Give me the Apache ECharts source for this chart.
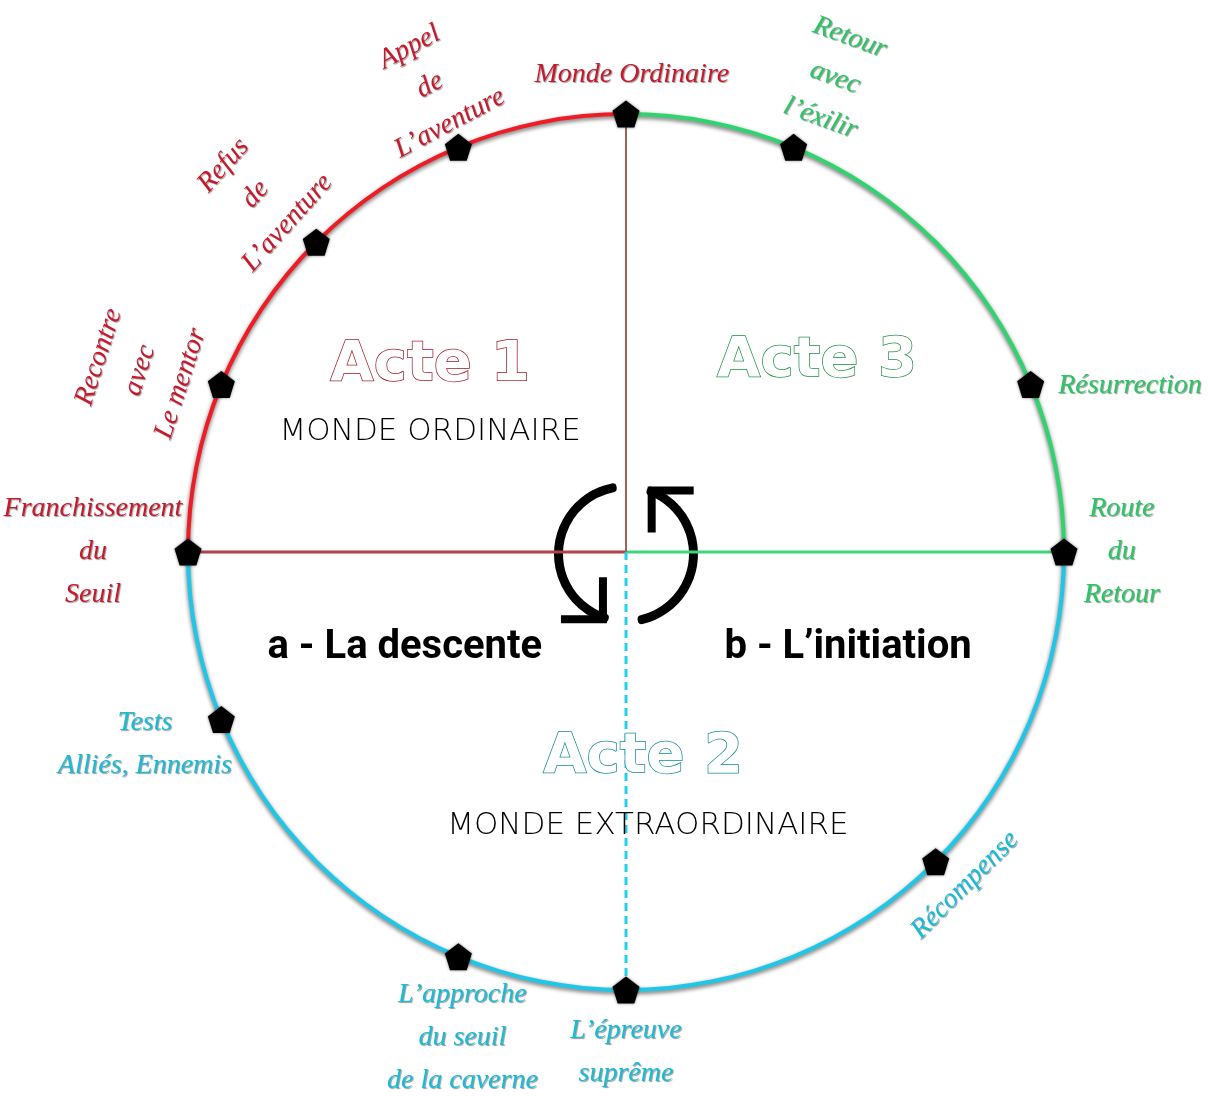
<!DOCTYPE html>
<html>
<head>
<meta charset="utf-8">
<script src="https://cdn.jsdelivr.net/npm/echarts@6/dist/echarts.min.js"></script>
<style>
  html, body { margin: 0; padding: 0; background: #fff; }
  #main { width: 1208px; height: 1096px; }
</style>
</head>
<body>
<div id="main"></div>
<script>
// etapes du voyage du heros
var stageNames = [
  'Monde Ordinaire', 'Appel\nde\nL’aventure', 'Refus\nde\nL’aventure', 'Recontre\navec\nLe mentor',
  'Franchissement\ndu\nSeuil', 'Tests\nAlliés, Ennemis', 'L’approche\ndu seuil\nde la caverne',
  'L’épreuve\nsuprême', 'Récompense', 'Route\ndu\nRetour', 'Résurrection', 'Retour\navec\nl’éxilir'
];
var stageAngles = [90, 112.5, 135, 157.5, 180, 202.5, 247.5, 270, 315, 0, 22.5, 67.5];
var stageActs = [1, 1, 1, 1, 1, 2, 2, 2, 2, 3, 3, 3];
var labelRadius = [1.089, 1.156, 1.176, 1.185, 1.217, 1.183, 1.171, 1.142, 1.085, 1.132, 1.212, 1.183];
var labelAngles = [89.3, 112.8, 136, 159.5, 180, 201.8, 251.4, 270, 315.5, 0, 18.3, 66.2];
var labelRotate = [0, 28, 48, 72, 0, 0, 0, 0, 45, 0, 0, -20];

// arcs du cercle (degres) : acte 1, acte 2, acte 3
var arcNames = ['Acte 1', 'Acte 2', 'Acte 3'];
var arcSpans = [90, 180, 90];

// fleches du centre
var cycleSpans = [157, 25, 152, 26];
var arrowHeads = [[-0.096, -0.110, 0], [0.102, 0.097, 180]];

// textes du centre
var actTitles = ['Acte 1', 'Acte 3', 'Acte 2'];
var actTitlePos = [[-0.447, 0.427], [0.436, 0.434], [0.039, -0.468]];
var actTitleAct = [1, 3, 2];
var worldNames = ['MONDE ORDINAIRE', 'MONDE EXTRAORDINAIRE'];
var worldPos = [[-0.447, 0.274], [0.050, -0.626]];
var phaseNames = ['a - La descente', 'b - L’initiation'];
var phasePos = [[-0.505, -0.219], [0.507, -0.219]];

var arcColors = { 1: '#ee1c25', 2: '#1ec6e8', 3: '#2fd46f' };
var textColors = { 1: '#c8192c', 2: '#17bcd9', 3: '#27c862' };
var darkColors = { 1: '#9c1a28', 2: '#138a9c', 3: '#1f8f45' };

var pentagon = 'path://M0,-10L9.51,-3.09L5.88,8.09L-5.88,8.09L-9.51,-3.09Z';
var corner = 'path://M38,0L46,0L46,46L0,46L0,38L38,38Z';

var myChart = echarts.init(document.getElementById('main'));

var hidden = { axisLine: { show: false }, axisTick: { show: false }, axisLabel: { show: false }, splitLine: { show: false } };

myChart.setOption({
  animation: false,
  polar: { center: [626, 552], radius: 438 * 1.3 },
  radiusAxis: Object.assign({ type: 'value', min: 0, max: 1.3 }, hidden),
  angleAxis: Object.assign({ type: 'value', min: 0, max: 360, startAngle: 0, clockwise: false }, hidden),
  grid: { left: 188, top: 114, width: 876, height: 876 },
  xAxis: Object.assign({ type: 'value', min: -1, max: 1 }, hidden),
  yAxis: Object.assign({ type: 'value', min: -1, max: 1 }, hidden),
  series: [
    {
      name: 'cercle',
      type: 'pie',
      silent: true,
      center: [626, 552],
      radius: [436, 440],
      startAngle: 90,
      clockwise: false,
      label: { show: false },
      labelLine: { show: false },
      itemStyle: { borderWidth: 0, shadowBlur: 4, shadowColor: 'rgba(0,0,0,0.6)', shadowOffsetY: 2 },
      data: arcNames.map(function (n, i) {
        return { name: n, value: arcSpans[i], itemStyle: { color: arcColors[i + 1] } };
      })
    },
    {
      name: 'cycle',
      type: 'pie',
      silent: true,
      center: [626, 554],
      radius: [63, 72],
      startAngle: 98,
      clockwise: false,
      label: { show: false },
      labelLine: { show: false },
      itemStyle: { borderWidth: 0, borderRadius: 4 },
      data: cycleSpans.map(function (v, i) {
        return { value: v, itemStyle: { color: i % 2 === 0 ? '#000' : 'rgba(0,0,0,0)' } };
      })
    },
    {
      type: 'scatter',
      coordinateSystem: 'cartesian2d',
      silent: true,
      symbol: corner,
      symbolSize: [46, 46],
      itemStyle: { color: '#000', opacity: 1 },
      data: arrowHeads.map(function (a) {
        return { value: [a[0], a[1]], symbolRotate: a[2] };
      })
    },
    {
      type: 'line', coordinateSystem: 'polar', silent: true, symbol: 'none',
      lineStyle: { color: '#b2404d', width: 3 },
      data: [[0, 180], [1, 180]]
    },
    {
      type: 'line', coordinateSystem: 'polar', silent: true, symbol: 'none',
      lineStyle: { color: '#3fd67b', width: 3 },
      data: [[0, 0], [1, 0]]
    },
    {
      type: 'line', coordinateSystem: 'polar', silent: true, symbol: 'none',
      lineStyle: { color: '#9a6555', width: 2 },
      data: [[0, 90], [1, 90]]
    },
    {
      type: 'line', coordinateSystem: 'polar', silent: true, symbol: 'none',
      lineStyle: { color: '#22d0ee', width: 3, type: [8, 5] },
      data: [[0, 270], [1, 270]]
    },
    {
      name: 'etapes',
      type: 'scatter',
      coordinateSystem: 'polar',
      silent: true,
      symbol: pentagon,
      symbolSize: 27,
      itemStyle: { color: '#000', opacity: 1, shadowBlur: 3, shadowColor: 'rgba(0,0,0,0.5)' },
      z: 5,
      data: stageAngles.map(function (a) { return [1, a]; })
    },
    {
      name: 'libelles',
      type: 'scatter',
      coordinateSystem: 'polar',
      silent: true,
      symbolSize: 0,
      z: 6,
      data: stageNames.map(function (n, i) {
        var act = stageActs[i];
        return {
          value: [labelRadius[i], labelAngles[i]],
          label: {
            show: true,
            position: 'inside',
            formatter: n,
            rotate: labelRotate[i],
            color: textColors[act],
            opacity: 1,
            fontFamily: 'Liberation Serif',
            fontStyle: 'italic',
            fontSize: 28,
            lineHeight: 43,
            align: 'center',
            verticalAlign: 'middle',
            textShadowColor: 'rgba(0,0,0,0.4)',
            textShadowBlur: 1,
            textShadowOffsetX: 1,
            textShadowOffsetY: 1
          }
        };
      })
    },
    {
      name: 'actes',
      type: 'scatter',
      coordinateSystem: 'cartesian2d',
      silent: true,
      symbolSize: 0,
      z: 6,
      data: actTitles.map(function (t, i) {
        var act = actTitleAct[i];
        return {
          value: actTitlePos[i],
          label: {
            show: true, position: 'inside', formatter: t, opacity: 1,
            fontFamily: 'DejaVu Sans', fontWeight: 'bold', fontSize: 56,
            color: '#fff', textBorderColor: darkColors[act], textBorderWidth: 1.5,
            textShadowColor: textColors[act], textShadowBlur: 0,
            textShadowOffsetX: 3, textShadowOffsetY: -3
          }
        };
      })
    },
    {
      name: 'mondes',
      type: 'scatter',
      coordinateSystem: 'cartesian2d',
      silent: true,
      symbolSize: 0,
      z: 6,
      data: worldNames.map(function (t, i) {
        return {
          value: worldPos[i],
          label: {
            show: true, position: 'inside', formatter: t, opacity: 1,
            fontFamily: 'DejaVu Sans', fontWeight: 200, fontSize: 31,
            color: '#000'
          }
        };
      })
    },
    {
      name: 'phases',
      type: 'scatter',
      coordinateSystem: 'cartesian2d',
      silent: true,
      symbolSize: 0,
      z: 6,
      data: phaseNames.map(function (t, i) {
        return {
          value: phasePos[i],
          label: {
            show: true, position: 'inside', formatter: t, opacity: 1,
            fontFamily: 'Roboto', fontWeight: 'bold', fontSize: 40,
            color: '#000'
          }
        };
      })
    }
  ]
});

window.addEventListener('resize', function () { myChart.resize(); });
</script>
</body>
</html>
